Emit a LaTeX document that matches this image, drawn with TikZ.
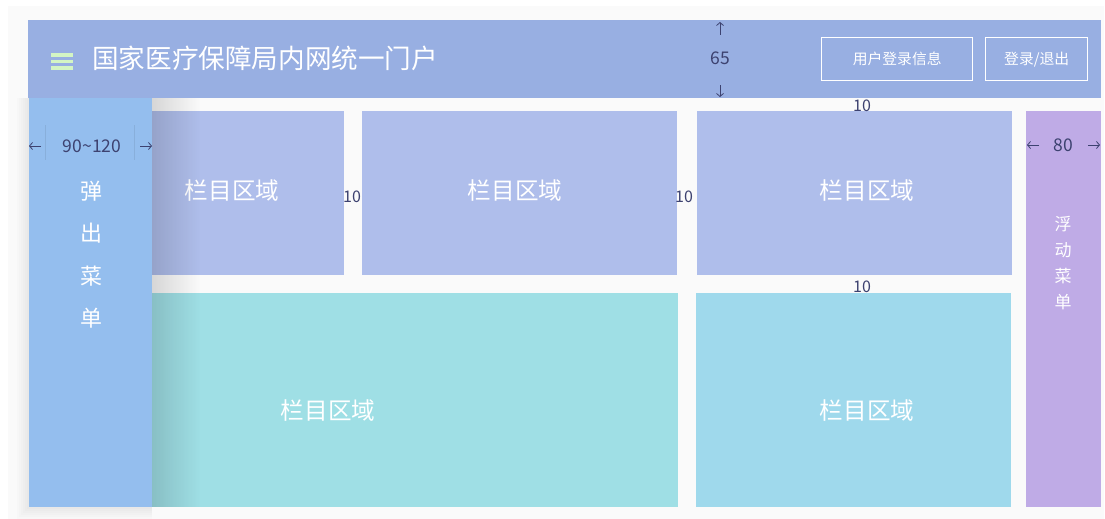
\documentclass[tikz,border=0pt]{standalone}
\usepackage{fontspec}
\setmainfont{Noto Sans CJK SC}
\usetikzlibrary{fadings,arrows.meta}
\definecolor{hdr}{HTML}{98AFE2}
\definecolor{menuL}{HTML}{94BEEE}
\definecolor{topbox}{HTML}{AFBEEB}
\definecolor{botL}{HTML}{9FDFE5}
\definecolor{botR}{HTML}{9FD9EC}
\definecolor{menuR}{HTML}{BFABE6}
\definecolor{dimtext}{HTML}{3D4270}
\definecolor{hamb}{HTML}{D4F5C4}
\begin{document}
\begin{tikzpicture}[x=1pt,y=-1pt,
  area/.style={anchor=north west, inner sep=0pt, outer sep=0pt},
  lbl/.style={text=white, font=\fontsize{23.6}{26}\selectfont, inner sep=0pt},
  dimlbl/.style={text=dimtext, font=\fontsize{17.5}{20}\selectfont, inner sep=0pt},
  gaplbl/.style={text=dimtext, font=\fontsize{16}{18}\selectfont, inner sep=0pt},
  btn/.style={draw=white, line width=1.4pt, text=white, font=\fontsize{14.8}{16}\selectfont, inner sep=0pt, anchor=north west},
  dimarrow/.style={draw=dimtext, line width=0.8pt, -{Straight Barb[length=3pt,width=7pt]}},
]
\useasboundingbox (0,0) rectangle (1105,519);
\fill[white] (0,0) rectangle (1105,519);
\fill[black!2] (8,6) rectangle (1104,519);

% header
\node[area, fill=hdr, minimum width=1073pt, minimum height=78pt] (header) at (28,20) {};
\draw[hamb, line width=3.6pt] (51,55) -- (73,55) (51,61.5) -- (73,61.5) (51,68) -- (73,68);
\node[anchor=west, text=white, font=\fontsize{26.6}{30}\selectfont, inner sep=0pt] (title) at (92,58) {国家医疗保障局内网统一门户};
\node[btn, minimum width=151pt, minimum height=43pt] (userinfo) at (821,37) {用户登录信息};
\node[btn, minimum width=102pt, minimum height=43pt] (login) at (985,37) {登录/退出};

% content areas
\node[area, fill=topbox, minimum width=192pt, minimum height=164pt] (b1) at (152,111) {};
\node[area, fill=topbox, minimum width=315pt, minimum height=164pt] (b2) at (362,111) {};
\node[area, fill=topbox, minimum width=315pt, minimum height=164pt] (b3) at (697,111) {};
\node[area, fill=botL, minimum width=526pt, minimum height=214pt] (b4) at (152,293) {};
\node[area, fill=botR, minimum width=315pt, minimum height=214pt] (b5) at (696,293) {};
\node[area, fill=menuR, minimum width=75pt, minimum height=396pt] (rmenu) at (1026,111) {};

\node[lbl] (t1) at (232,191) {栏目区域};
\node[lbl] (t2) at (515,191) {栏目区域};
\node[lbl] (t3) at (867,191) {栏目区域};
\node[lbl] (t4) at (328,411) {栏目区域};
\node[lbl] (t5) at (867,411) {栏目区域};

% shadow of left menu
\foreach \d in {2,4,6,8,10,12}{
  \fill[black, opacity=0.01] (29-\d,98) rectangle (152,507+\d);
}
\fill[black, opacity=0.14, path fading=east] (152,98) rectangle (200,507);

% left menu
\node[area, fill=menuL, minimum width=123pt, minimum height=409pt] (lmenu) at (29,98) {};
\draw[menuL!92!black, line width=0.7pt] (45,125) -- (45,160) (134,125) -- (134,160);
\node[dimlbl] (w1) at (92,146) {90\char`~120};
\coordinate (l1s) at (41,146); \coordinate (l1e) at (29,146);
\coordinate (r1s) at (140,146); \coordinate (r1e) at (152,146);
\draw[dimarrow] (l1s) -- (l1e);
\draw[dimarrow] (r1s) -- (r1e);
\node[text=white, font=\fontsize{22}{42.3}\selectfont, align=center, inner sep=0pt, anchor=north] (lmtext) at (91,181) {弹\\出\\菜\\单};

% right menu labels
\node[dimlbl] (w2) at (1063,145) {80};
\coordinate (l2s) at (1039,145); \coordinate (l2e) at (1027,145);
\coordinate (r2s) at (1088,145); \coordinate (r2e) at (1100,145);
\draw[dimarrow] (l2s) -- (l2e);
\draw[dimarrow] (r2s) -- (r2e);
\node[text=white, font=\fontsize{17}{26}\selectfont, align=center, inner sep=0pt, anchor=north] (rmtext) at (1063,216) {浮\\动\\菜\\单};

% header height
\node[dimlbl] (h65) at (720,58) {65};
\coordinate (us) at (720,35); \coordinate (ue) at (720,22);
\coordinate (ds) at (720,85); \coordinate (de) at (720,97);
\draw[dimarrow] (us) -- (ue);
\draw[dimarrow] (ds) -- (de);

% gaps
\node[gaplbl] (g1) at (862,106) {10};
\node[gaplbl] (g2) at (352,197) {10};
\node[gaplbl] (g3) at (684,197) {10};
\node[gaplbl] (g4) at (862,287) {10};
\end{tikzpicture}
\end{document}
